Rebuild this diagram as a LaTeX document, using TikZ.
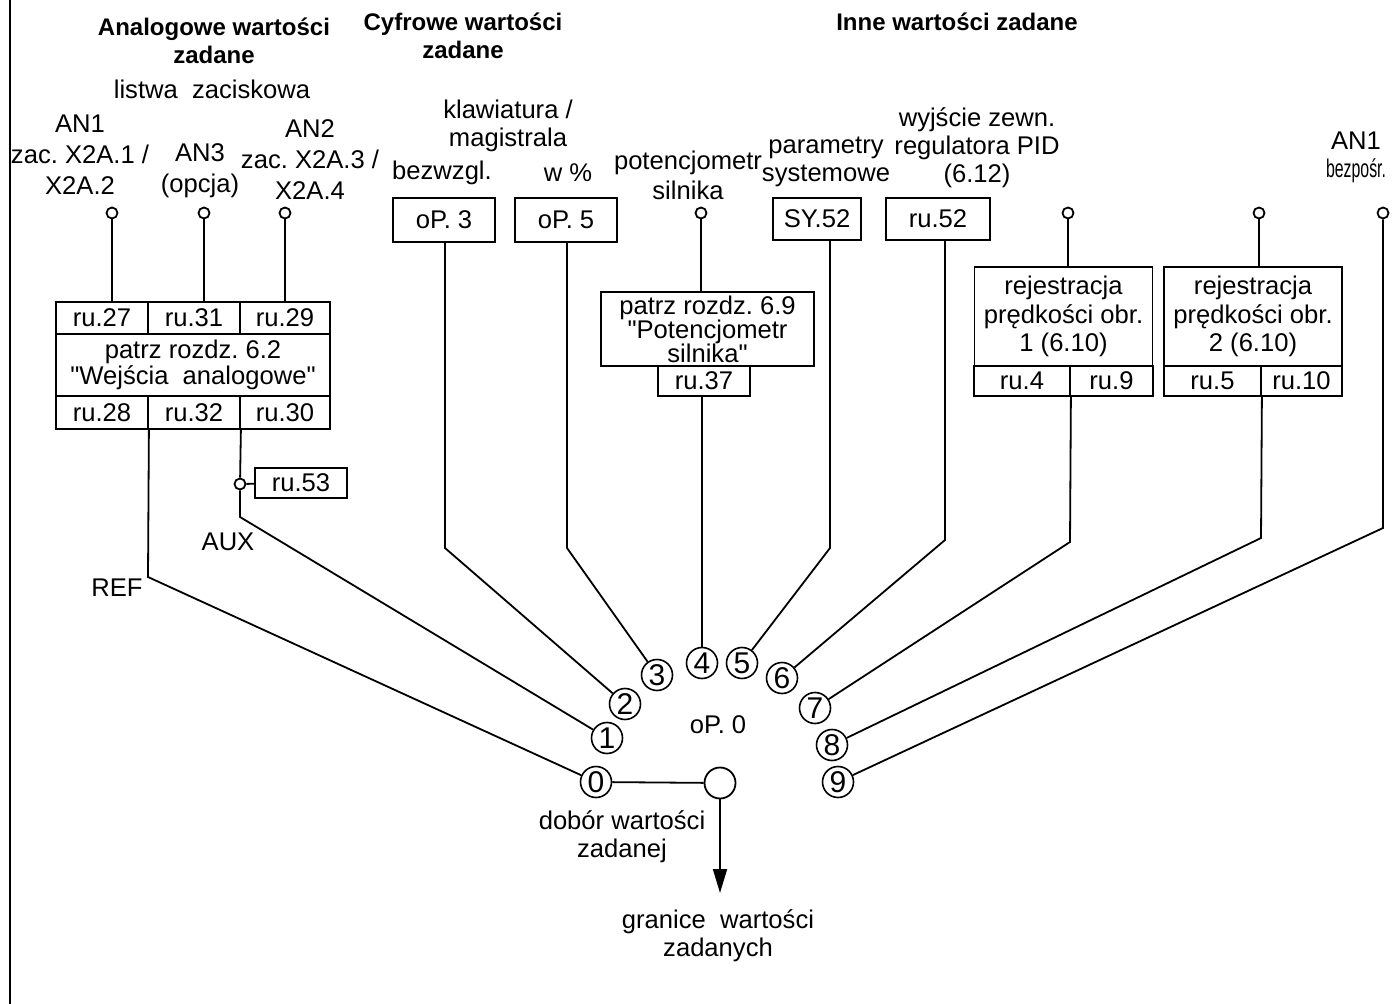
\documentclass[tikz,border=0pt]{standalone}
\usepackage{fontspec}
\setmainfont{Liberation Sans}[Ligatures=TeXReset]
\usetikzlibrary{arrows.meta}
\tikzset{
  wire/.style={line width=0.9pt},
  cell/.style={draw,line width=0.9pt,inner sep=0pt,align=center,font=\fontsize{12.8}{12.8}\selectfont},
  term/.style={draw,circle,line width=0.9pt,fill=white,minimum size=5.5pt,inner sep=0pt},
  num/.style={draw,circle,line width=0.8pt,minimum size=15.5pt,inner sep=0pt,font=\fontsize{15}{15}\selectfont},
  txt/.style={align=center,inner sep=0pt,font=\fontsize{12.8}{14}\selectfont},
  head/.style={align=center,inner sep=0pt,font=\bfseries\fontsize{12}{14}\selectfont},
}

\begin{document}
\frenchspacing
\begin{tikzpicture}[x=0.5pt,y=-0.5pt]
\useasboundingbox (0,0) rectangle (1395,1004);
\draw[wire] (10,0) -- (10,1004);
% headings
\node[head] (hana) at (214,41) {Analogowe wartości\\zadane};
\node[txt] (hlist) at (212,89) {listwa\ \ zaciskowa};
\node[head] (hcyf) at (463,36) {Cyfrowe wartości\\zadane};
\node[head] (hinn) at (957,22) {Inne wartości zadane};
% input labels
\node[txt,font=\fontsize{12.8}{15.5}\selectfont] (lan1) at (80,155) {AN1\\zac. X2A.1 /\\X2A.2};
\node[txt,font=\fontsize{12.8}{15.5}\selectfont] (lan3) at (200,170.5) {AN3\\(opcja)};
\node[txt,font=\fontsize{12.8}{15.5}\selectfont] (lan2) at (310,160) {AN2\\zac. X2A.3 /\\X2A.4};
\node[txt] (lkl) at (508,126) {klawiatura /\\magistrala};
\node[txt] (lbz) at (442,173) {bezwzgl.};
\node[txt] (lpr) at (568,173) {w \%};
\node[txt,font=\fontsize{12.8}{15}\selectfont] (lpot) at (688,175) {potencjometr\\silnika};
\node[txt] (lsys) at (826,161.5) {parametry\\systemowe};
\node[txt] (lpid) at (977,148) {wyjście zewn.\\regulatora PID\\(6.12)};
\node[txt] (lan1d) at (1356,157.5) {AN1\\\scalebox{0.62}[1]{bezpośr.}};
% terminals
\foreach \n/\x in {a1/112,a3/204,a2/285,pot/701,r1/1068,r2/1259,an/1383}
  \node[term] (t\n) at (\x,213) {};
% analog block
\foreach \n/\x/\w in {27/102/46,31/194/46,29/285/45} \node[cell,minimum width=\w pt,minimum height=16pt] (c\n) at (\x,318) {ru.\n};
\node[cell,minimum width=137pt,minimum height=31pt,font=\fontsize{12.8}{11.5}\selectfont] (ain) at (193,365) {patrz rozdz. 6.2\\"Wejścia\ \ analogowe"};
\foreach \n/\x/\w in {28/102/46,32/194/46,30/285/45} \node[cell,minimum width=\w pt,minimum height=16.5pt] (c\n) at (\x,412.5) {ru.\n};
\node[term] (aux) at (240,484) {};
\node[cell,minimum width=46pt,minimum height=15pt] (c53) at (301,483) {ru.53};
\node[txt] (laux) at (228,542) {AUX};
\node[txt] (lref) at (117,588) {REF};
% digital boxes
\node[cell,minimum width=51pt,minimum height=22pt] (op3) at (444,220) {oP. 3};
\node[cell,minimum width=51pt,minimum height=22pt] (op5) at (566,220) {oP. 5};
\node[cell,minimum width=44pt,minimum height=21pt] (sy52) at (817,219) {SY.52};
\node[cell,minimum width=52pt,minimum height=21pt] (ru52) at (938,219) {ru.52};
% motor potentiometer
\node[cell,minimum width=106.5pt,minimum height=37pt,font=\fontsize{12.8}{12}\selectfont] (mpot) at (707.5,329) {patrz rozdz. 6.9\\"Potencjometr\\silnika"};
\node[cell,minimum width=46pt,minimum height=15pt] (c37) at (704,381) {ru.37};
% speed registration
\foreach \i/\x in {1/1063.5,2/1253}
  \node[cell,minimum width=89pt,minimum height=49.5pt,font=\fontsize{12.8}{14.2}\selectfont] (reg\i) at (\x,316.5) {rejestracja\\prędkości obr.\\\i\ (6.10)};
\foreach \n/\x/\w in {4/1022/48,9/1111.5/41.5,5/1212.5/48.5,10/1301.5/40.5}
  \node[cell,minimum width=\w pt,minimum height=15pt] (c\n) at (\x,381) {ru.\n};
% selector
\foreach \n/\x/\y in {0/596/782,1/607/738,2/625/704,3/657/675,4/702/663,5/742/663,6/782/678,7/815/708,8/832/745,9/838/782}
  \node[num] (n\n) at (\x,\y) {\n};
\node[txt] (lop0) at (718,725) {oP. 0};
\node[draw,circle,line width=0.9pt,minimum size=15.5pt,inner sep=0pt] (sel) at (720,783) {};
\node[txt] (ldob) at (622,837) {dobór wartości\\zadanej};
\node[txt] (lgr) at (718,936) {granice\ \ wartości\\zadanych};
\coordinate (out) at (720,893);
% bends
\coordinate (bref) at (148,577);
\coordinate (baux) at (240,517);
\coordinate (b3) at (445,548);
\coordinate (b5) at (567,548);
\coordinate (bsy) at (830,548);
\coordinate (bpid) at (945,540);
\coordinate (br1) at (1070,542);
\coordinate (br2) at (1261,538);
\coordinate (ban) at (1383,528);
% connections
\draw[wire] (ta1) -- (ta1 |- c27.north);
\draw[wire] (ta3) -- (ta3 |- c31.north);
\draw[wire] (ta2) -- (ta2 |- c29.north);
\draw[wire] (c28.south east) -- (bref) -- (n0);
\draw[wire] (c32.south east) -- (aux) -- (baux) -- (n1);
\draw[wire] (aux) -- (c53);
\draw[wire] (op3.south -| b3) -- (b3) -- (n2);
\draw[wire] (op5.south -| b5) -- (b5) -- (n3);
\draw[wire] (tpot) -- (tpot |- mpot.north);
\draw[wire] (c37.south -| n4) -- (n4);
\draw[wire] (sy52.south -| bsy) -- (bsy) -- (n5);
\draw[wire] (ru52.south -| bpid) -- (bpid) -- (n6);
\draw[wire] (tr1) -- (tr1 |- reg1.north);
\draw[wire] (tr2) -- (tr2 |- reg2.north);
\draw[wire] (c4.south east) -- (br1) -- (n7);
\draw[wire] (c5.south east) -- (br2) -- (n8);
\draw[wire] (tan) -- (ban) -- (n9);
\draw[wire] (n0) -- (sel);
\draw[wire,-{Triangle[length=12pt,width=7pt]}] (sel) -- (out);
\end{tikzpicture}
\end{document}
